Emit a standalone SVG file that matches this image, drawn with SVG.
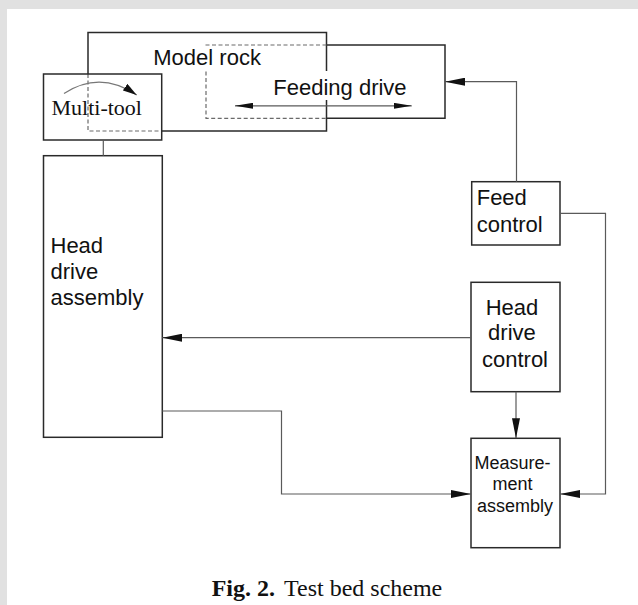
<svg xmlns="http://www.w3.org/2000/svg" width="638" height="605" viewBox="0 0 638 605">
  <style>
    .box { fill: none; stroke: #2a2a2a; stroke-width: 1.5; }
    .wire { fill: none; stroke: #5a5a5a; stroke-width: 1.2; }
    .dash { fill: none; stroke: #6a6a6a; stroke-width: 1.2; stroke-dasharray: 4 2.5; }
    .sans { font-family: "Liberation Sans", Arial, sans-serif; fill: #111; }
    .serif { font-family: "Liberation Serif", "Times New Roman", serif; fill: #111; }
  </style>
  <defs>
    <marker id="arrow" markerUnits="userSpaceOnUse" markerWidth="20" markerHeight="8" refX="20" refY="4" orient="auto">
      <path d="M0,0 L20,4 L0,8 z" fill="#111"/>
    </marker>
    <marker id="dart" markerUnits="userSpaceOnUse" markerWidth="18" markerHeight="6" refX="18" refY="3" orient="auto-start-reverse">
      <path d="M0,0 L18,3 L0,6 z" fill="#111"/>
    </marker>
    <marker id="curl" markerUnits="userSpaceOnUse" markerWidth="14" markerHeight="8" refX="14" refY="4" orient="auto">
      <path d="M0,0 L14,4 L0,8 z" fill="#111"/>
    </marker>
  </defs>

  <!-- page -->
  <rect x="0" y="0" width="638" height="605" fill="#ffffff"/>
  <rect x="0" y="0" width="638" height="9" fill="#e1e1e1"/>
  <rect x="0" y="0" width="7" height="605" fill="#e1e1e1"/>

  <!-- model rock -->
  <g id="model-rock">
    <path class="box" d="M88,74 V32.5 H326.5 V131 H161.7"/>
    <path class="dash" d="M88,74 V131 H161.7"/>
    <rect x="150" y="47" width="116" height="22" fill="#ffffff"/>
    <text class="sans" x="153.3" y="65" font-size="22">Model rock</text>
  </g>

  <!-- feeding drive -->
  <g id="feeding-drive">
    <path class="box" d="M326.5,45 H445 V118.3 H326.5"/>
    <path class="dash" d="M326.5,45 H203.5"/>
    <path class="dash" d="M206,71.5 V118.3 H326.5"/>
    <rect x="270" y="71" width="142" height="29" fill="#ffffff"/>
    <text class="sans" x="273.3" y="95" font-size="22">Feeding drive</text>
    <path class="wire" d="M235,105.8 H411.7" marker-start="url(#dart)" marker-end="url(#dart)"/>
  </g>

  <!-- multi-tool -->
  <g id="multi-tool">
    <rect class="box" x="43.5" y="74" width="118.2" height="66"/>
    <path d="M64,93.5 Q100,70 136.7,95" fill="none" stroke="#777" stroke-width="1.2" marker-end="url(#curl)"/>
    <text class="serif" x="51.5" y="115" font-size="22">Multi-tool</text>
  </g>

  <!-- head drive assembly -->
  <g id="head-drive-assembly">
    <rect class="box" x="43.5" y="155.7" width="118.8" height="281.6"/>
    <text class="sans" font-size="22">
      <tspan x="50.5" y="253">Head</tspan>
      <tspan x="50.5" y="279">drive</tspan>
      <tspan x="50.5" y="305">assembly</tspan>
    </text>
  </g>

  <!-- feed control -->
  <g id="feed-control">
    <rect class="box" x="471.7" y="181.7" width="88.3" height="63.3"/>
    <text class="sans" font-size="22">
      <tspan x="476.7" y="205">Feed</tspan>
      <tspan x="476.7" y="231.7">control</tspan>
    </text>
  </g>

  <!-- head drive control -->
  <g id="head-drive-control">
    <rect class="box" x="471" y="282.3" width="89" height="109.4"/>
    <text class="sans" font-size="22" text-anchor="middle">
      <tspan x="515" y="315">Head</tspan>
      <tspan x="515" y="340">drive</tspan>
      <tspan x="515" y="366.7">control</tspan>
    </text>
  </g>

  <!-- measurement assembly -->
  <g id="measurement-assembly">
    <rect class="box" x="471" y="438.3" width="89" height="109.4"/>
    <text class="sans" font-size="18" text-anchor="middle">
      <tspan x="515" y="469">Measure-</tspan>
      <tspan x="515" y="490">ment</tspan>
      <tspan x="515" y="511.7">assembly</tspan>
    </text>
  </g>

  <!-- connectors -->
  <g id="connectors">
    <path class="wire" d="M103.3,140 V155.7"/>
    <path class="wire" d="M516.5,181.7 V81.7 H445" marker-end="url(#arrow)"/>
    <path class="wire" d="M560,213.3 H605.5 V494 H560" marker-end="url(#arrow)"/>
    <path class="wire" d="M471,337.7 H162.3" marker-end="url(#arrow)"/>
    <path class="wire" d="M516,391.7 V438.3" marker-end="url(#arrow)"/>
    <path class="wire" d="M162.3,411 H281.5 V494 H471" marker-end="url(#arrow)"/>
  </g>

  <!-- caption -->
  <text class="serif" y="596" font-size="24"><tspan x="211.7" font-weight="bold">Fig. 2.</tspan><tspan x="284">Test bed scheme</tspan></text>
</svg>
